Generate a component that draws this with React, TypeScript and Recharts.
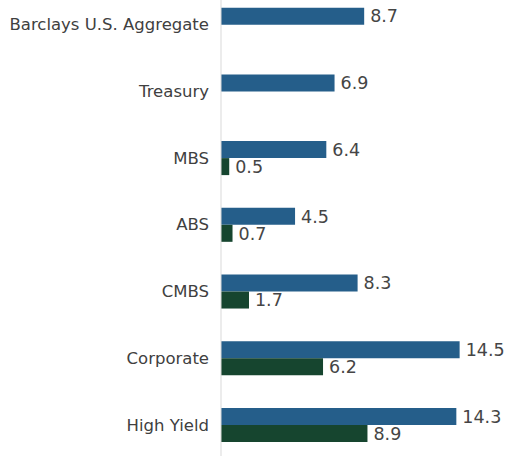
import { BarChart, Bar, XAxis, YAxis, LabelList } from "recharts";

const categories = ["Barclays U.S. Aggregate", "Treasury", "MBS", "ABS", "CMBS", "Corporate", "High Yield"];
const durationValues = [8.7, 6.9, 6.4, 4.5, 8.3, 14.5, 14.3];
const spreadValues: (number | null)[] = [null, null, 0.5, 0.7, 1.7, 6.2, 8.9];

const data = categories.map((name, i) => ({
  name,
  duration: durationValues[i],
  spread: spreadValues[i],
}));

const labelStyle = { fill: "#454545", fontSize: 17.5, fontFamily: "DejaVu Sans" };

export default function App() {
  return (
    <div style={{ position: "absolute", left: 0, top: -9 }}>
      <BarChart
        width={509}
        height={467}
        data={data}
        layout="vertical"
        margin={{ top: 0, right: 0, bottom: 0, left: 0 }}
        barGap={0}
        barCategoryGap="25%"
      >
        <XAxis type="number" domain={[0, 17.5]} hide />
        <YAxis
          type="category"
          dataKey="name"
          width={221}
          tickLine={false}
          tickSize={0}
          tickMargin={12}
          axisLine={{ stroke: "#d9d9d9" }}
          tick={{ fill: "#404040", fontSize: 16.5, fontFamily: "DejaVu Sans" }}
        />
        <Bar dataKey="duration" fill="#255E8A" isAnimationActive={false}>
          <LabelList dataKey="duration" position="right" offset={6} style={labelStyle} />
        </Bar>
        <Bar dataKey="spread" fill="#16452F" isAnimationActive={false}>
          <LabelList dataKey="spread" position="right" offset={6} style={labelStyle} />
        </Bar>
      </BarChart>
    </div>
  );
}
